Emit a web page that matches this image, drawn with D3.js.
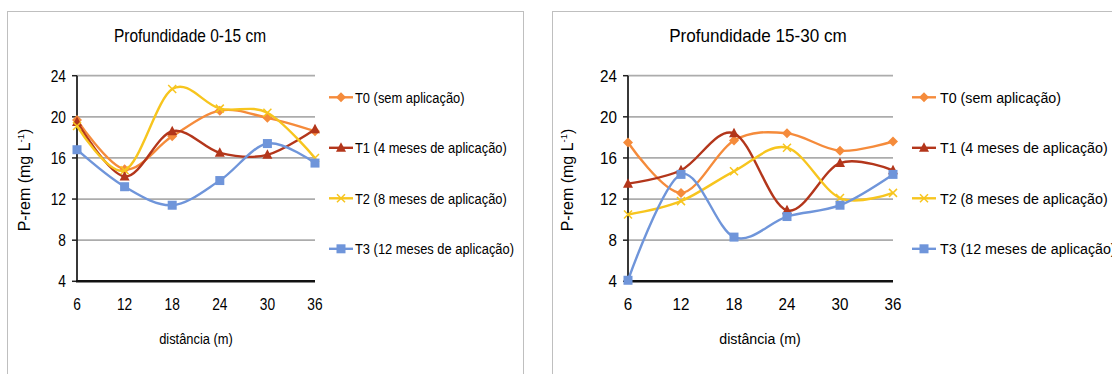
<!DOCTYPE html>
<html>
<head>
<meta charset="utf-8">
<style>
  body { margin: 0; background: #fff; }
  svg { display: block; font-family: "Liberation Sans", Arial, sans-serif; }
</style>
</head>
<body>
<svg id="svg1" width="1112" height="374"></svg>
<script src="https://d3js.org/d3.v7.min.js"></script>
<script>

// distances along the transect (m)
var distances = [6, 12, 18, 24, 30, 36];
var yTicks = [4, 8, 12, 16, 20, 24];
var seriesNames = ["T0 (sem aplicação)", "T1 (4 meses de aplicação)",
                   "T2 (8 meses de aplicação)", "T3 (12 meses de aplicação)"];

// P-rem, depth 0-15 cm
var t0_0_15 = [19.7, 14.9, 18.1, 20.6, 19.9, 18.6];
var t1_0_15 = [19.5, 14.2, 18.6, 16.5, 16.3, 18.8];
var t2_0_15 = [19.1, 14.8, 22.7, 20.8, 20.4, 16.0];
var t3_0_15 = [16.8, 13.2, 11.4, 13.8, 17.4, 15.5];

// P-rem, depth 15-30 cm
var t0_15_30 = [17.5, 12.6, 17.7, 18.4, 16.7, 17.6];
var t1_15_30 = [13.5, 14.8, 18.4, 10.9, 15.5, 14.8];
var t2_15_30 = [10.5, 11.8, 14.7, 17.0, 12.1, 12.6];
var t3_15_30 = [4.1, 14.4, 8.3, 10.3, 11.4, 14.4];

var colors = ["#f58b3b", "#b3361b", "#f7c51e", "#6f95da"];
var markers = ["diamond", "triangle", "cross", "square"];

var svg = d3.select("#svg1");

var charts = [
  { title: "Profundidade 0-15 cm", series: [t0_0_15, t1_0_15, t2_0_15, t3_0_15],
    box: [7.5, 11.5, 516, 380], px: [77, 315], sx: 0.86,
    titleX: 190, xLabelX: 196, yLabelX: 25, legX: 329, legTextX: 355 },
  { title: "Profundidade 15-30 cm", series: [t0_15_30, t1_15_30, t2_15_30, t3_15_30],
    box: [552.5, 11.5, 600, 380], px: [628, 893], sx: 0.95,
    titleX: 758, xLabelX: 760, yLabelX: 568, legX: 912, legTextX: 940 }
];

var y = d3.scaleLinear().domain([4, 24]).range([281.3, 75.7]);

function label(g, x, yy, str, size, sx, anchor) {
  return g.append("text")
    .attr("transform", "translate(" + x + "," + yy + ") scale(" + sx + ",1)")
    .attr("text-anchor", anchor || "middle")
    .attr("font-size", size)
    .attr("fill", "#000")
    .text(str);
}

function drawMarker(g, type, color) {
  if (type == "diamond") {
    g.append("path").attr("d", "M0,-5L5,0L0,5L-5,0Z").attr("fill", color);
  } else if (type == "triangle") {
    g.append("path").attr("d", "M0,-5.5L5,4L-5,4Z").attr("fill", color);
  } else if (type == "square") {
    g.append("rect").attr("x", -4.5).attr("y", -4.5).attr("width", 9).attr("height", 9)
      .attr("fill", color);
  } else {
    g.append("path").attr("d", "M-4,-4L4,4M-4,4L4,-4")
      .attr("stroke", color).attr("stroke-width", 1.5).attr("fill", "none");
  }
}

charts.forEach(function(c) {
  var g = svg.append("g");

  g.append("rect")
    .attr("x", c.box[0]).attr("y", c.box[1])
    .attr("width", c.box[2]).attr("height", c.box[3])
    .attr("fill", "#fff").attr("stroke", "#bfbfbf");

  var x = d3.scalePoint().domain(distances).range(c.px);

  // gridlines
  g.selectAll(".grid").data(yTicks.slice(1)).enter().append("line")
    .attr("x1", c.px[0]).attr("x2", c.px[1])
    .attr("y1", function(d) { return y(d); }).attr("y2", function(d) { return y(d); })
    .attr("stroke", "#acacac").attr("stroke-width", 1.8);

  // y axis with outside ticks
  g.append("line")
    .attr("x1", c.px[0]).attr("x2", c.px[0]).attr("y1", y(24)).attr("y2", y(4))
    .attr("stroke", "#222").attr("stroke-width", 1.8);
  g.selectAll(".tk").data(yTicks).enter().append("line")
    .attr("x1", c.px[0] - 5).attr("x2", c.px[0])
    .attr("y1", function(d) { return y(d); }).attr("y2", function(d) { return y(d); })
    .attr("stroke", "#222").attr("stroke-width", 1.5);
  // x axis
  g.append("line")
    .attr("x1", c.px[0] - 1).attr("x2", c.px[1]).attr("y1", y(4)).attr("y2", y(4))
    .attr("stroke", "#111").attr("stroke-width", 2.6);

  yTicks.forEach(function(t) {
    label(g, c.px[0] - 11, y(t) + 6, t, 16, c.sx, "end");
  });
  distances.forEach(function(d) {
    label(g, x(d), 310, d, 16, c.sx);
  });

  label(g, c.titleX, 42, c.title, 18, c.sx);
  label(g, c.xLabelX, 344, "distância (m)", 15, c.sx);

  var yl = g.append("text")
    .attr("transform", "translate(" + (c.yLabelX + 5) + ",180) rotate(-90)")
    .attr("text-anchor", "middle")
    .attr("font-size", 16)
    .text("P-rem (mg L");
  yl.append("tspan").attr("font-size", 9.5).attr("dy", -6).text("-1");
  yl.append("tspan").attr("dy", 6).text(")");

  var line = d3.line()
    .x(function(d, i) { return x(distances[i]); })
    .y(function(d) { return y(d); })
    .curve(d3.curveCardinal.tension(0));

  c.series.forEach(function(vals, si) {
    g.append("path")
      .attr("d", line(vals))
      .attr("fill", "none")
      .attr("stroke", colors[si])
      .attr("stroke-width", 2.4);
    vals.forEach(function(v, i) {
      var m = g.append("g").attr("transform", "translate(" + x(distances[i]) + "," + y(v) + ")");
      drawMarker(m, markers[si], colors[si]);
    });
  });

  // legend
  seriesNames.forEach(function(name, si) {
    var ly = 97.3 + si * 50.5;
    g.append("line")
      .attr("x1", c.legX).attr("x2", c.legX + 24).attr("y1", ly).attr("y2", ly)
      .attr("stroke", colors[si]).attr("stroke-width", 2.4);
    var m = g.append("g").attr("transform", "translate(" + (c.legX + 12) + "," + ly + ")");
    drawMarker(m, markers[si], colors[si]);
    label(g, c.legTextX, ly + 5.5, name, 15, c.sx, "start");
  });
});

</script>
</body>
</html>
